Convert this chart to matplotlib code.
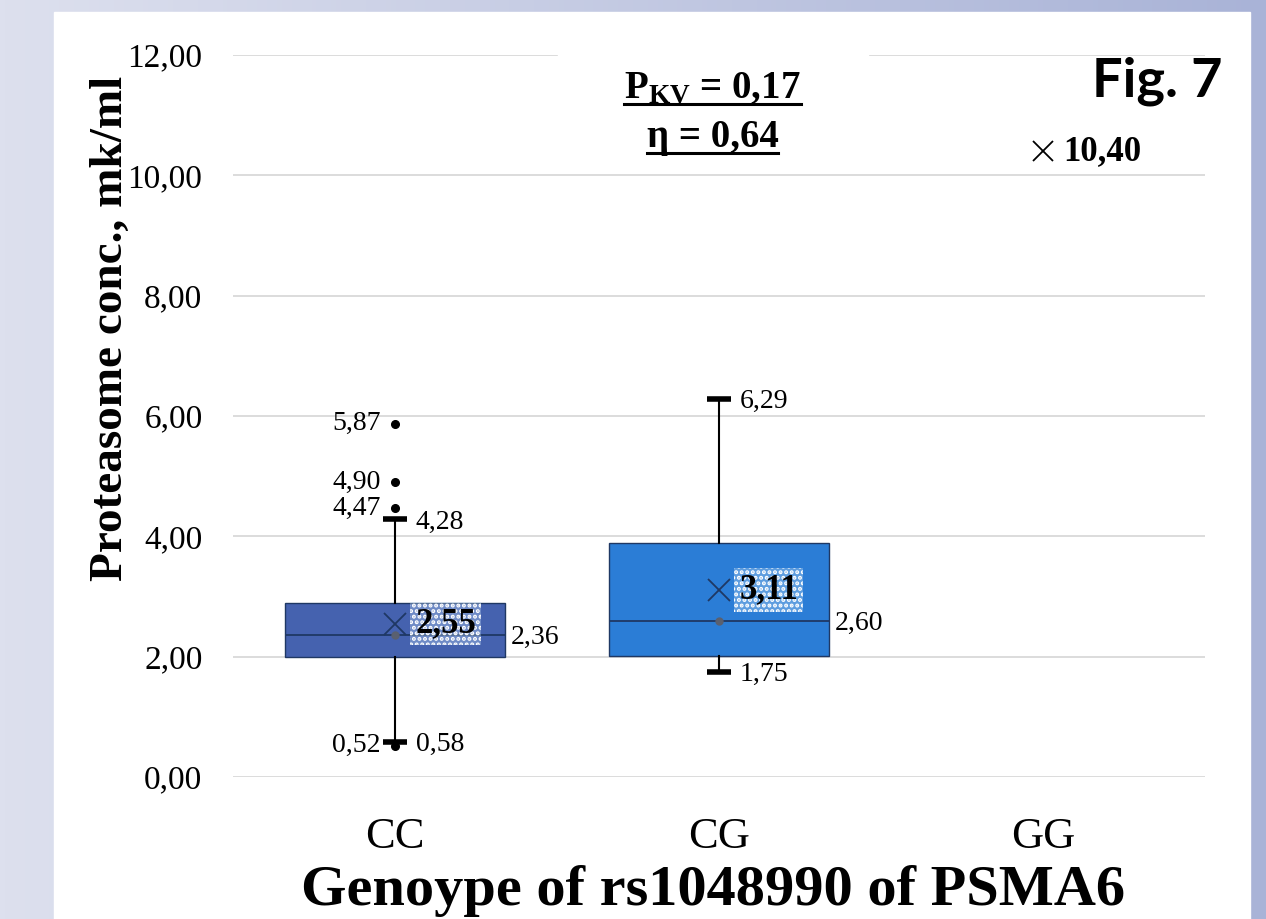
import numpy as np
import matplotlib.pyplot as plt
from matplotlib.patches import Rectangle
from matplotlib.lines import Line2D

# Genotype groups on the x axis
genotypes = ['CC', 'CG', 'GG']
# Box statistics (CC, CG)
q1_vals = [1.99, 2.01]
q3_vals = [2.90, 3.89]
medians = [2.36, 2.60]
whisker_lo = [0.58, 1.75]
whisker_hi = [4.28, 6.29]
outliers = [[0.52, 4.47, 4.90, 5.87], []]
# Means for all three groups (GG has a single value only)
means = [2.55, 3.11, 10.40]

y_ticks = [0, 2, 4, 6, 8, 10, 12]
p_kv = 0.17
eta = 0.64

BOX_COLORS = ['#4562AF', '#2B7DD6']
NAVY = '#1F3864'
SERIF = 'Liberation Serif'


def fmt(v):
    return f'{v:.2f}'.replace('.', ',')


plt.rcParams['font.family'] = SERIF
plt.rcParams['mathtext.fontset'] = 'custom'
plt.rcParams['mathtext.rm'] = SERIF
plt.rcParams['mathtext.bf'] = SERIF + ':bold'
plt.rcParams['mathtext.it'] = SERIF + ':italic'
plt.rcParams['hatch.linewidth'] = 2.0

W, H = 1266, 919
fig = plt.figure(figsize=(W / 100, H / 100), dpi=100)

# gradient background + white slide panel
bg = fig.add_axes([0, 0, 1, 1], zorder=-10)
grad = np.linspace(0, 1, 256)[None, :, None]
left_c = np.array([221, 224, 238]) / 255
right_c = np.array([169, 179, 215]) / 255
bg.imshow(left_c + grad * (right_c - left_c), aspect='auto', extent=[0, 1, 0, 1])
bg.add_patch(Rectangle((54 / W, 0), (1250 - 54) / W, (H - 12) / H, color='white'))
bg.set_axis_off()

ax = fig.add_axes([233 / W, 142 / H, 972 / W, 722 / H])
ax.set_facecolor('none')

stats = []
for i in range(2):
    stats.append(dict(med=medians[i], q1=q1_vals[i], q3=q3_vals[i],
                      whislo=whisker_lo[i], whishi=whisker_hi[i],
                      fliers=outliers[i], mean=means[i]))

bp = ax.bxp(stats, positions=[0, 1], widths=0.68, capwidths=0.077,
            patch_artist=True, showmeans=True, manage_ticks=False,
            boxprops=dict(edgecolor=NAVY, linewidth=1.0),
            whiskerprops=dict(color='black', lw=1.5),
            capprops=dict(color='black', lw=4, solid_capstyle='butt'),
            medianprops=dict(color=NAVY, lw=1.3),
            flierprops=dict(marker='o', mfc='black', mec='black', ms=5.5),
            meanprops=dict(marker='x', mec=NAVY, ms=16, mew=1.3))
for box, c in zip(bp['boxes'], BOX_COLORS):
    box.set_facecolor(c)
for m in bp['means']:
    m.set_zorder(4)

# median dots
ax.plot([0, 1], medians, 'o', color='#5A6070', ms=5, zorder=4)
# GG single value
ax.plot(2, means[2], marker='x', color='black', ms=15, mew=1.3, zorder=4)

ax.set_xlim(-0.5, 2.5)
ax.set_ylim(0, 12)
for s in ax.spines.values():
    s.set_visible(False)
ax.set_yticks(y_ticks)
ax.set_yticklabels([fmt(v) for v in y_ticks])
ax.set_xticks(range(len(genotypes)))
ax.set_xticklabels(genotypes)
ax.tick_params(axis='y', length=0, pad=22, labelsize=24)
ax.tick_params(axis='x', length=0, pad=29, labelsize=32)
ax.yaxis.grid(True, color='#D9D9D9', lw=1.3)
ax.set_axisbelow(True)

lab = dict(fontsize=20, va='center', textcoords='offset points')
for i in range(2):
    for v in (whisker_lo[i], whisker_hi[i]):
        ax.annotate(fmt(v), (i, v), xytext=(15, -2), ha='left', **lab)
    ax.annotate(fmt(medians[i]), (i + 0.34, medians[i]), xytext=(4, -2), ha='left', **lab)
    for v in outliers[i]:
        ax.annotate(fmt(v), (i, v), xytext=(-10.5, 0), ha='right', **lab)

dotted = dict(boxstyle='square,pad=0.15', fc=(0.75, 0.85, 0.95, 0.35), ec='white',
              lw=0, hatch='...')
for i, v in enumerate(means):
    ax.annotate(fmt(v), (i, v), xytext=(14.5, 0), textcoords='offset points',
                ha='left', va='center', fontsize=25, fontweight='bold',
                bbox=dotted if i < 2 else None, zorder=5)

# statistics block, with a white mask over the top grid line
ax.add_patch(Rectangle(((558 - 233) / 972, 0.97), 310 / 972, 0.05,
                       transform=ax.transAxes, color='white', clip_on=False, zorder=2))
t1 = ax.text(0.98, 11.28, r'$\mathbf{P_{KV}}$' + f' = {fmt(p_kv)}', ha='center',
             va='baseline', fontsize=28, fontweight='bold', zorder=3)
t2 = ax.text(0.98, 10.47, f'η = {fmt(eta)}', ha='center', va='baseline',
             fontsize=28, fontweight='bold', zorder=3)

fig.text(1223 / W, (H - 97) / H, 'Fig. 7', family='Lato', fontweight='bold',
         fontsize=39, ha='right', va='baseline')

ax.set_ylabel('Proteasome conc., mk/ml', fontsize=34, fontweight='bold',
              va='baseline', ha='center')
ax.yaxis.set_label_coords((122 - 233) / 972, (777 - 328) / 722)
ax.set_xlabel('Genoype of rs1048990 of PSMA6', fontsize=42, fontweight='bold',
              va='baseline', ha='center')
ax.xaxis.set_label_coords((713 - 233) / 972, (777 - 905) / 722)

# underline the statistics lines
fig.canvas.draw()
r = fig.canvas.get_renderer()
for t in (t1, t2):
    bb = t.get_window_extent(r)
    y = bb.y0 + 3
    fig.add_artist(Line2D([bb.x0 / W, bb.x1 / W], [y / H, y / H], color='black', lw=2.2))

fig.savefig('out.png', dpi=100)
